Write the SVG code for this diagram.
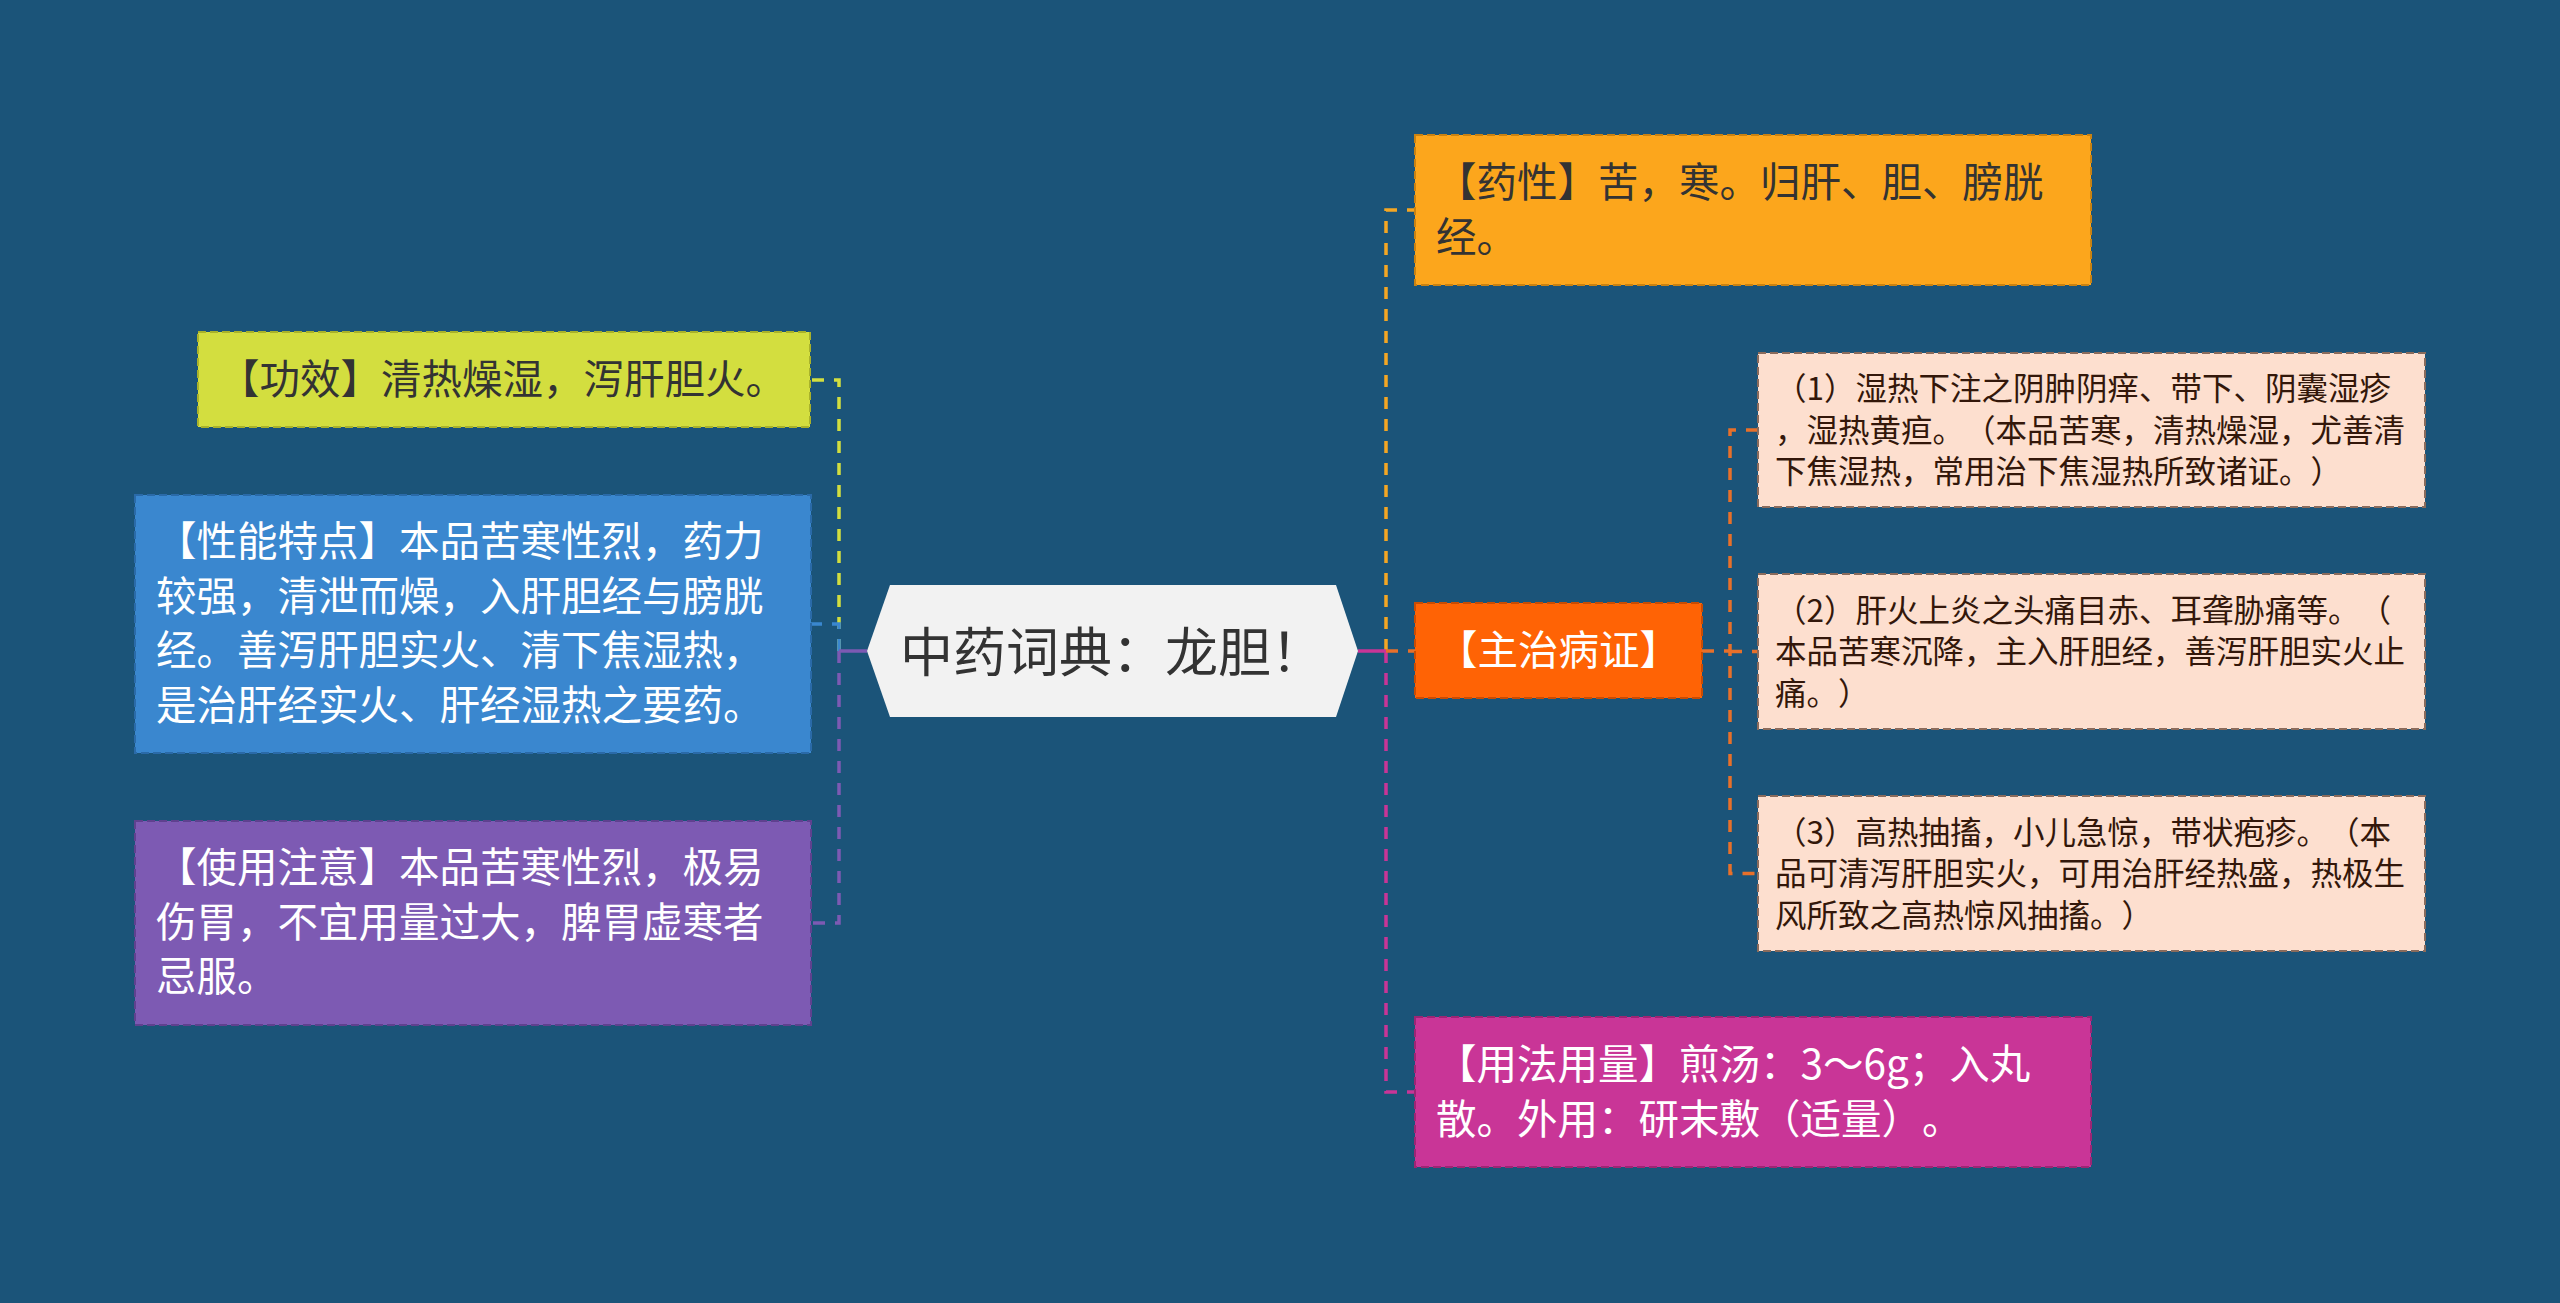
<svg xmlns="http://www.w3.org/2000/svg" width="2560" height="1303" viewBox="0 0 2560 1303">
<style>
text{font-family:"Noto Sans CJK SC","Microsoft YaHei",sans-serif;text-spacing-trim:space-all;font-feature-settings:"halt" 0,"chws" 0;}
.t41{font-size:40.5px;}
.t32{font-size:31.5px;fill:#33170a;}
.dark{fill:#333333;}
.light{fill:#ffffff;}
.box{stroke-width:2;stroke-dasharray:8 4;}
.c{fill:none;stroke-width:3.5;stroke-dasharray:12 10;}
.s{fill:none;stroke-width:3.5;}
</style>
<rect width="2560" height="1303" fill="#1b5479"/>
<g id="connectors">
  <path class="c" d="M839 651 V380 H810" stroke="#d3de3f"/>
  <path class="c" d="M839 651 V624 H811" stroke="#3a87cf"/>
  <path class="c" d="M839 651 V923 H811" stroke="#7d5ab3"/>
  <path class="s" d="M867 651 H839" stroke="#7d5ab3"/>
  <path class="c" d="M1386 651 V210 H1415" stroke="#f5a623"/>
  <path class="c" d="M1386 651 V1092 H1415" stroke="#c93597"/>
  <path class="c" d="M1386 651 H1415" stroke="#e8702a"/>
  <path class="s" d="M1358 651 H1386" stroke="#c93597"/>
  <path class="c" d="M1702 651 H1730" stroke="#e8702a"/>
  <path class="c" d="M1758 430 H1730 V873.5 H1758" stroke="#e8702a"/>
  <path class="c" d="M1730 651.5 H1758" stroke="#e8702a"/>
</g>
<g id="root">
  <polygon points="867,651 890,585 1336,585 1358,651 1336,717 890,717" fill="#f2f2f2"/>
  <text x="1112" y="672" font-size="53" text-anchor="middle" class="dark">中药词典：龙胆！</text>
</g>
<g id="gongxiao">
  <rect class="box" x="198" y="332" width="612" height="95" fill="#d3de3f" stroke="#a9b22a"/>
  <text class="t41 dark" x="219" y="394">【功效】清热燥湿，泻肝胆火。</text>
</g>
<g id="xingneng">
  <rect class="box" x="135" y="495" width="676" height="258" fill="#3a87cf" stroke="#2a6aa8"/>
  <text class="t41 light" x="156"><tspan x="156" y="556">【性能特点】本品苦寒性烈，药力</tspan><tspan x="156" y="610.5">较强，清泄而燥，入肝胆经与膀胱</tspan><tspan x="156" y="665">经。善泻肝胆实火、清下焦湿热，</tspan><tspan x="156" y="719.5">是治肝经实火、肝经湿热之要药。</tspan></text>
</g>
<g id="zhuyi">
  <rect class="box" x="135" y="821" width="676" height="204" fill="#7d5ab3" stroke="#5f418f"/>
  <text class="t41 light" x="156"><tspan x="156" y="882">【使用注意】本品苦寒性烈，极易</tspan><tspan x="156" y="936.5">伤胃，不宜用量过大，脾胃虚寒者</tspan><tspan x="156" y="991">忌服。</tspan></text>
</g>
<g id="yaoxing">
  <rect class="box" x="1415" y="135" width="676" height="150" fill="#fca61c" stroke="#c98212"/>
  <text class="t41 dark" x="1436"><tspan x="1436" y="197">【药性】苦，寒。归肝、胆、膀胱</tspan><tspan x="1436" y="251.5">经。</tspan></text>
</g>
<g id="zhuzhi">
  <rect class="box" x="1415" y="603" width="287" height="95" fill="#ff6305" stroke="#c84c04"/>
  <text class="t41 light" x="1558.5" y="665" text-anchor="middle">【主治病证】</text>
</g>
<g id="zz1">
  <rect class="box" x="1758" y="353" width="667" height="154" fill="#fddfcf" stroke="#8a6b5c"/>
  <text class="t32" x="1775"><tspan x="1775" y="400">（1）湿热下注之阴肿阴痒、带下、阴囊湿疹</tspan><tspan x="1775" y="441.5">，湿热黄疸。（本品苦寒，清热燥湿，尤善清</tspan><tspan x="1775" y="483">下焦湿热，常用治下焦湿热所致诸证。）</tspan></text>
</g>
<g id="zz2">
  <rect class="box" x="1758" y="574" width="667" height="155" fill="#fddfcf" stroke="#8a6b5c"/>
  <text class="t32" x="1775"><tspan x="1775" y="621.5">（2）肝火上炎之头痛目赤、耳聋胁痛等。（</tspan><tspan x="1775" y="663">本品苦寒沉降，主入肝胆经，善泻肝胆实火止</tspan><tspan x="1775" y="704.5">痛。）</tspan></text>
</g>
<g id="zz3">
  <rect class="box" x="1758" y="796" width="667" height="155" fill="#fddfcf" stroke="#8a6b5c"/>
  <text class="t32" x="1775"><tspan x="1775" y="843.5">（3）高热抽搐，小儿急惊，带状疱疹。（本</tspan><tspan x="1775" y="885">品可清泻肝胆实火，可用治肝经热盛，热极生</tspan><tspan x="1775" y="926.5">风所致之高热惊风抽搐。）</tspan></text>
</g>
<g id="yongfa">
  <rect class="box" x="1415" y="1017" width="676" height="150" fill="#c93597" stroke="#9c2574"/>
  <text class="t41 light" x="1436"><tspan x="1436" y="1079">【用法用量】煎汤：3～6g；入丸</tspan><tspan x="1436" y="1133.5">散。外用：研末敷（适量）。</tspan></text>
</g>
</svg>
